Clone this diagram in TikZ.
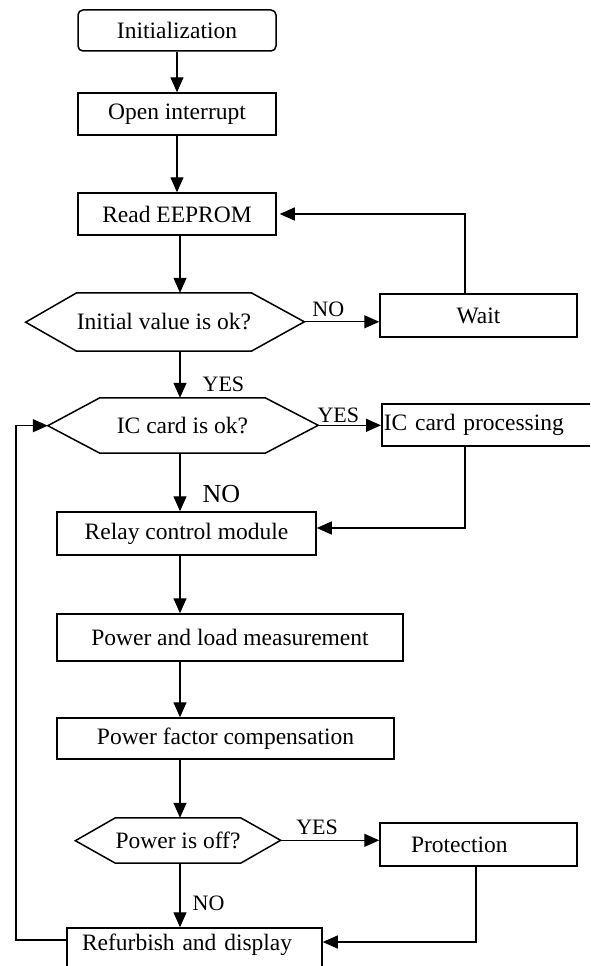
\documentclass[tikz,border=0pt]{standalone}
\usepackage{fontspec}
\setmainfont{Liberation Serif}
\usepackage{tikz}
\usetikzlibrary{arrows.meta}
\tikzstyle{flowBox} = [draw, rectangle, line width=1.5pt, inner sep=0pt,
   font=\fontsize{23.5}{28}\selectfont]
\tikzstyle{decision} = [rectangle, inner sep=0pt,
   font=\fontsize{23.5}{28}\selectfont]
\tikzstyle{hexLine} = [line width=1.5pt, line join=miter]
\tikzstyle{flowArrow} = [line width=1.3pt, -{Triangle[length=15pt,width=13pt]}]
\tikzstyle{yesNo} = [inner sep=0pt, font=\fontsize{22}{26}\selectfont]

\begin{document}
\begin{tikzpicture}[x=1pt, y=-1pt]
  \useasboundingbox (0,0) rectangle (590,966);
  \clip (0,0) rectangle (590,966);

  % rails for the vertical connectors
  \coordinate (spine) at (180,0);
  \coordinate (rail) at (465,0);
  \coordinate (protRail) at (476,0);
  \coordinate (loopRail) at (16,0);

  % main column
  \node[flowBox, rounded corners=5pt, minimum width=198pt, minimum height=41pt] (init) at (177,30.5) {Initialization};
  \node[flowBox, minimum width=198pt, minimum height=42pt] (irq) at (177,114) {Open interrupt};
  \node[flowBox, minimum width=198pt, minimum height=42pt] (eeprom) at (177,214) {Read EEPROM};
  \node[decision, minimum width=152pt, minimum height=58pt] (valid) at (164,322) {Initial value is ok?};
  \node[decision, minimum width=165pt, minimum height=55pt] (card) at (182.5,425.5) {IC card is ok?};
  \node[flowBox, minimum width=259pt, minimum height=43pt] (relay) at (186.5,533.5) {Relay control module};
  \node[flowBox, minimum width=346pt, minimum height=47pt] (measure) at (230,637.5) {Power and load measurement};
  \node[flowBox, minimum width=337pt, minimum height=41pt] (pfc) at (225.5,738.5) {Power factor compensation};
  \node[decision, minimum width=120pt, minimum height=45pt] (off) at (178,840.5) {Power is off?};
  \node[flowBox, minimum width=255pt, minimum height=44pt, inner xsep=15pt, text width=225pt,
        align=left, text height=16pt, text depth=16pt] (refresh) at (194.5,950) {Refurbish and display};

  % side branches
  \node[flowBox, minimum width=197pt, minimum height=43pt] (wait) at (478.5,315.5) {Wait};
  \node[flowBox, anchor=west, minimum height=42pt, inner xsep=2pt, text width=211pt,
        align=left] (proc) at (381,425) {IC card processing};
  \node[flowBox, minimum width=197pt, minimum height=43pt, inner xsep=31pt, text width=135pt,
        align=left] (protect) at (478.5,844.5) {Protection};

  % hexagon outlines of the decisions
  \draw[hexLine] (valid.north west) -- (valid.north east) -- ++(53,29) coordinate (valid-r)
     -- (valid.south east) -- (valid.south west) -- ++(-51,-29) coordinate (valid-l) -- cycle;
  \draw[hexLine] (card.north west) -- (card.north east) -- ++(53,27.5) coordinate (card-r)
     -- (card.south east) -- (card.south west) -- ++(-52,-27.5) coordinate (card-l) -- cycle;
  \draw[hexLine] (off.north west) -- (off.north east) -- ++(40,22.5) coordinate (off-r)
     -- (off.south east) -- (off.south west) -- ++(-40,-22.5) coordinate (off-l) -- cycle;

  % arrows down the main column
  \draw[flowArrow] (init) -- (irq);
  \draw[flowArrow] (irq) -- (eeprom);
  \draw[flowArrow] (eeprom.south -| spine) -- (valid.north -| spine);
  \draw[flowArrow] (valid.south -| spine) -- node[yesNo, pos=.72, anchor=west, xshift=22pt] {YES} (card.north -| spine);
  \draw[flowArrow] (card.south -| spine) -- node[yesNo, pos=.71, anchor=west, xshift=22pt,
        font=\fontsize{26}{30}\selectfont] {NO} (relay.north -| spine);
  \draw[flowArrow] (relay.south -| spine) -- (measure.north -| spine);
  \draw[flowArrow] (measure.south -| spine) -- (pfc.north -| spine);
  \draw[flowArrow] (pfc.south -| spine) -- (off.north -| spine);
  \draw[flowArrow] (off.south -| spine) -- node[yesNo, pos=.63, anchor=west, xshift=12pt] {NO} (refresh.north -| spine);

  % branches and feedback
  \draw[flowArrow] (valid-r) -- node[yesNo, pos=.32, anchor=south, yshift=4pt] {NO} (valid-r -| wait.west);
  \draw[flowArrow, shorten >=3pt] (wait.north -| rail) |- (eeprom.east);
  \draw[flowArrow] (card-r) -- node[yesNo, pos=.32, anchor=south, yshift=2pt] {YES} (card-r -| proc.west);
  \draw[flowArrow] (proc.south -| rail) |- ([yshift=5.5pt]relay.east);
  \draw[flowArrow] (off-r) -- node[yesNo, pos=.37, anchor=south, yshift=5pt] {YES} (off-r -| protect.west);
  \draw[flowArrow] (protect.south -| protRail) |- ([yshift=8pt]refresh.east);
  \draw[flowArrow] ([yshift=10pt]refresh.west) -| (card-l -| loopRail) -- (card-l);
\end{tikzpicture}
\end{document}
